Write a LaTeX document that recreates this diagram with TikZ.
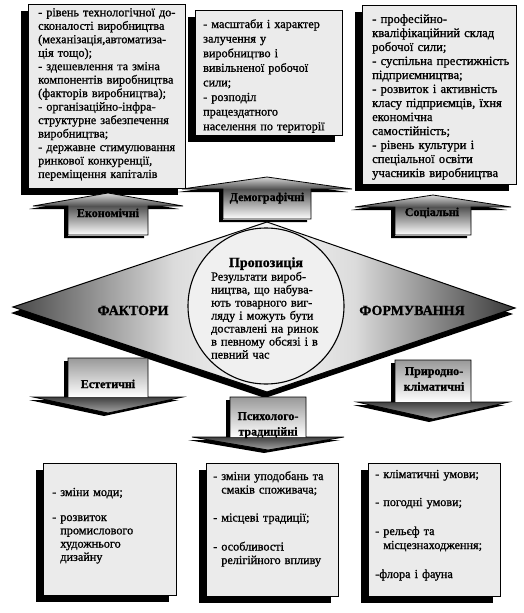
\documentclass[tikz,border=0pt]{standalone}
\usepackage{fontspec}
\setmainfont{Liberation Serif}[RawFeature={embolden=1.0}]
\pgfdeclarehorizontalshading{diamshade}{100bp}{color(0bp)=(black!72); color(25bp)=(black!72); color(41bp)=(black!14); color(50bp)=(black!4); color(59bp)=(black!14); color(75bp)=(black!78); color(100bp)=(black!78)}
\tikzset{
  infobox/.style={fill=black!8, draw=black, line width=0.7pt},
  boxshadow/.style={fill=black},
  arrowline/.style={draw=black, line width=0.8pt},
  % the picture's y axis points down, so 'top color' lands at the visual bottom
  upbody/.style={top color=black!68, bottom color=white},
  uphead/.style={top color=black!15, bottom color=black!68},
  downbody/.style={top color=black!40, bottom color=white},
  downhead/.style={top color=black!75, bottom color=black!35},
  itemtext/.style={anchor=base west, inner sep=0pt, align=left, text width=#1},
  arrowlabel/.style={anchor=base, inner sep=0pt, font=\bfseries\fontsize{12}{14}\selectfont},
  arrowlabeltwo/.style={anchor=base, inner sep=0pt, text width=80pt, align=center, font=\bfseries\fontsize{12}{15.5}\selectfont},
  bigword/.style={anchor=base, inner sep=0pt, font=\bfseries\fontsize{14}{16}\selectfont},
}
\newcommand\InfoBox[4]{%
  \fill[boxshadow] (#1-7,#2+7) rectangle (#3-7,#4+7);
  \draw[infobox] (#1,#2) rectangle (#3,#4);}
% cx, peak, head base, head half width, body half width, body bottom
\newcommand\UpArr[6]{%
  \fill[boxshadow] (#1-4,#2+3) -- (#1+#4-4,#3+3) -- (#1+#5-4,#3+3) -- (#1+#5-4,#6+3) -- (#1-#5-4,#6+3) -- (#1-#5-4,#3+3) -- (#1-#4-4,#3+3) -- cycle;
  \shade[upbody] (#1-#5,#3) rectangle (#1+#5,#6);
  \shade[uphead] (#1,#2) -- (#1+#4,#3) -- (#1-#4,#3) -- cycle;
  \draw[arrowline] (#1,#2) -- (#1+#4,#3) -- (#1+#5,#3) -- (#1+#5,#6) -- (#1-#5,#6) -- (#1-#5,#3) -- (#1-#4,#3) -- cycle;}
% cx, body top, head base, head half width, body half width, peak
\newcommand\DownArr[6]{%
  \fill[boxshadow] (#1-#5-4,#2+3) -- (#1+#5-4,#2+3) -- (#1+#5-4,#3+3) -- (#1+#4-4,#3+3) -- (#1-4,#6+3) -- (#1-#4-4,#3+3) -- (#1-#5-4,#3+3) -- cycle;
  \shade[downbody] (#1-#5,#2) rectangle (#1+#5,#3);
  \shade[downhead] (#1-#4,#3) -- (#1+#4,#3) -- (#1,#6) -- cycle;
  \draw[arrowline] (#1-#5,#2) -- (#1+#5,#2) -- (#1+#5,#3) -- (#1+#4,#3) -- (#1,#6) -- (#1-#4,#3) -- (#1-#5,#3) -- cycle;}
\begin{document}
\begin{tikzpicture}[x=1pt,y=-1pt]
\useasboundingbox (0,0) rectangle (523,613);
\fill[white] (0,0) rectangle (523,613);

% top boxes
\InfoBox{28}{4}{185}{188}
\InfoBox{195}{10}{342}{135}
\InfoBox{362}{5}{516}{184}
% bottom boxes
\InfoBox{43}{463}{176}{595}
\InfoBox{206}{463}{338}{596}
\InfoBox{368}{463}{500}{596}

\node[itemtext=150pt, font=\fontsize{12.2}{13.47}\selectfont] (tltext) at (38,16.3) {- рівень технологічної до-\\
сконалості виробництва\\
(механізація,автоматиза-\\
ція тощо);\\
- здешевлення та зміна\\
компонентів виробництва\\
(факторів виробництва);\\
- організаційно-інфра-\\
структурне забезпечення\\
виробництва;\\
- державне стимулювання\\
ринкової конкуренції,\\
переміщення капіталів};

\node[itemtext=138pt, font=\fontsize{12.2}{14.6}\selectfont] (tmtext) at (203,28) {- масштаби і характер\\
залучення у\\
виробництво і\\
вивільненої робочої\\
сили;\\
- розподіл\\
працездатного\\
населення по території};

\node[itemtext=148pt, font=\fontsize{12.6}{14}\selectfont] (trtext) at (372,23) {- професійно-\\
кваліфікаційний склад\\
робочої сили;\\
- суспільна престижність\\
підприємництва;\\
- розвиток і активність\\
класу підприємців, їхня\\
економічна\\
самостійність;\\
- рівень культури і\\
спеціальної освіти\\
учасників виробництва};

\node[itemtext=120pt, font=\fontsize{12.2}{13.3}\selectfont] (bltext) at (52,496) {- зміни моди;\\[11.7pt]
- розвиток\\
\phantom{- }промислового\\
\phantom{- }художнього\\
\phantom{- }дизайну};

\node[itemtext=122pt, font=\fontsize{12.2}{13.5}\selectfont] (bmtext) at (213,480) {- зміни уподобань та\\
\phantom{- }смаків споживача;\\[14.5pt]
- місцеві традиції;\\[15.5pt]
- особливості\\
\phantom{- }релігійного впливу};

\node[itemtext=122pt, font=\fontsize{12.2}{14}\selectfont] (brtext) at (375,478) {- кліматичні умови;\\[14pt]
- погодні умови;\\[15pt]
- рельєф та\\
\phantom{- }місцезнаходження;\\[15pt]
-флора і фауна};

% block arrows
\UpArr{108}{193}{206}{75}{40}{235}
\UpArr{267}{177}{189}{85}{44}{219}
\UpArr{433}{195}{207}{78}{38}{235}

% central diamond
\fill[boxshadow] (11,313) -- (265,228) -- (513,314) -- (265,398) -- cycle;
\shadedraw[shading=diamshade, draw=black, line width=1pt] (13,307) -- (267,222) -- (515,308) -- (267,392) -- cycle;
\draw[fill=black!6, line width=1.1pt] (266,306) circle[radius=78];

\DownArr{108}{358}{397}{75}{40}{413}
\DownArr{268}{397}{437}{76}{38}{450}
\DownArr{433}{360}{402}{76}{38}{419}

\node[arrowlabel] (econ) at (108,217) {Економічні};
\node[arrowlabel] (demo) at (267,201) {Демографічні};
\node[arrowlabel] (soc) at (432,216) {Соціальні};
\node[arrowlabel] (est) at (108,388) {Естетичні};
\node[arrowlabeltwo] (psych) at (268,420) {Психолого-\\традиційні};
\node[arrowlabeltwo] (nature) at (434,375) {Природно-\\кліматичні};

\node[bigword] (faktory) at (133,315) {ФАКТОРИ};
\node[bigword] (formuv) at (412,315) {ФОРМУВАННЯ};

\node[bigword] (proptitle) at (266,267) {Пропозиція};
\node[itemtext=108pt, font=\fontsize{12.2}{13}\selectfont] (proptext) at (211,280.5) {\makebox[108pt][s]{Результати вироб-}\\
\makebox[108pt][s]{ництва, що набува-}\\
\makebox[108pt][s]{ють товарного виг-}\\
\makebox[108pt][s]{ляду і можуть бути}\\
\makebox[108pt][s]{доставлені на ринок}\\
\makebox[108pt][s]{в певному обсязі і в}\\
певний час};
\end{tikzpicture}
\end{document}
